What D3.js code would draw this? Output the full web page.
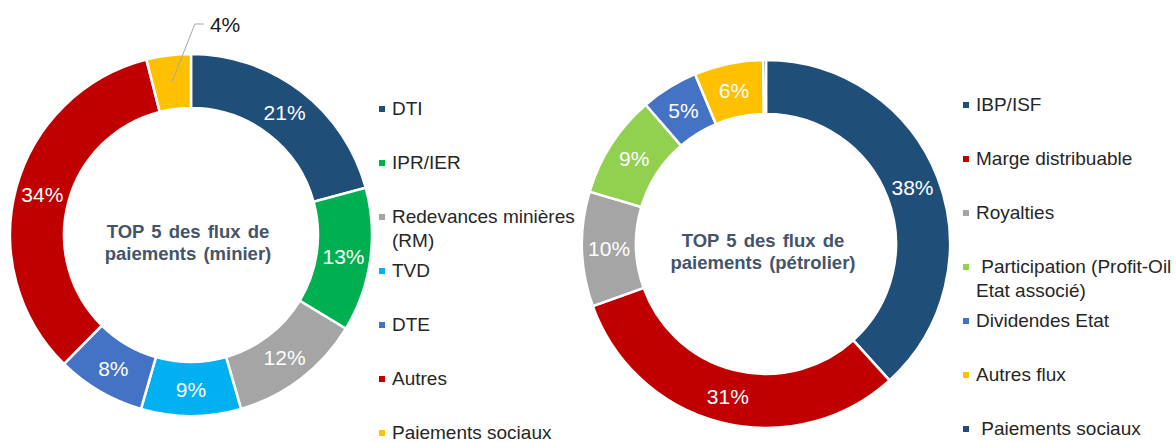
<!DOCTYPE html>
<html>
<head>
<meta charset="utf-8">
<script src="https://cdn.jsdelivr.net/npm/d3@7"></script>
<style>
  body { margin: 0; background: #fff; }
  svg { display: block; font-family: "Liberation Sans", Arial, sans-serif; }
</style>
</head>
<body>
<svg id="chart" width="1176" height="442"></svg>
<script>
// mining donut
const minierLabels = ["DTI", "IPR/IER", "Redevances minières|(RM)", "TVD", "DTE", "Autres", "Paiements sociaux"];
const minierValues = [21, 13, 12, 9, 8, 34, 4];
const minierColors = ["#1F4E79", "#00B050", "#A5A5A5", "#00B0F0", "#4472C4", "#C00000", "#FFC000"];

// oil donut
const petrolLabels = ["IBP/ISF", "Marge distribuable", "Royalties", " Participation (Profit-Oil|Etat associé)", "Dividendes Etat", "Autres flux", " Paiements sociaux"];
const petrolValues = [38, 31, 10, 9, 5, 6, 0.25];
const petrolColors = ["#1F4E79", "#C00000", "#A5A5A5", "#92D050", "#4472C4", "#FFC000", "#1F4E79"];

const svg = d3.select("#chart");

function donut(opts) {
  const { cx, cy, inner, outer, labels, values, colors, title, legendX, legendY, outsideIdx } = opts;
  const data = values.map((v, i) => ({ label: labels[i], value: v, color: colors[i] }));

  const pie = d3.pie().sort(null).value(d => d.value);
  const arc = d3.arc().innerRadius(inner).outerRadius(outer);
  const arcs = pie(data);

  const g = svg.append("g").attr("transform", `translate(${cx},${cy})`);

  g.selectAll("path")
    .data(arcs)
    .join("path")
    .attr("d", arc)
    .attr("fill", d => d.data.color)
    .attr("stroke", "#fff")
    .attr("stroke-width", 2.5);

  // percentage labels inside the ring
  g.selectAll("text.pct")
    .data(arcs.filter((d, i) => i !== outsideIdx && d.data.value >= 1))
    .join("text")
    .attr("class", "pct")
    .attr("transform", d => `translate(${arc.centroid(d)})`)
    .attr("text-anchor", "middle")
    .attr("dy", "0.36em")
    .attr("fill", "#fff")
    .attr("font-size", 21)
    .text(d => d.data.value + "%");

  // small slice labelled outside with a leader line
  if (outsideIdx != null) {
    const d = arcs[outsideIdx];
    const [sx, sy] = arc.centroid(d);
    const ex = sx + 23, ey = -outer - 30;
    g.append("polyline")
      .attr("points", [[sx, sy], [ex, ey], [ex + 9, ey]].map(p => p.join(",")).join(" "))
      .attr("fill", "none")
      .attr("stroke", "#A6A6A6")
      .attr("stroke-width", 1);
    g.append("text")
      .attr("x", ex + 15)
      .attr("y", ey)
      .attr("dy", "0.36em")
      .attr("font-size", 21)
      .attr("fill", "#1a1a1a")
      .text(d.data.value + "%");
  }

  // centre title
  const t = g.append("text")
    .attr("text-anchor", "middle")
    .attr("font-size", 18.5)
    .attr("font-weight", "bold")
    .attr("fill", "#44546A")
    .attr("word-spacing", 2);
  title.forEach((line, i) => {
    t.append("tspan").attr("x", -3).attr("y", -4 + i * 22).attr("dy", "0.36em").text(line);
  });

  // legend
  const lg = svg.append("g").attr("transform", `translate(${legendX},${legendY})`);
  const item = lg.selectAll("g")
    .data(data)
    .join("g")
    .attr("transform", (d, i) => `translate(0,${i * 54})`);
  item.append("rect")
    .attr("x", 0).attr("y", -9)
    .attr("width", 6).attr("height", 6)
    .attr("fill", d => d.color);
  const lt = item.append("text")
    .attr("font-size", 19)
    .attr("fill", "#262626")
    .attr("xml:space", "preserve")
    .style("white-space", "pre");
  lt.selectAll("tspan")
    .data(d => d.label.split("|"))
    .join("tspan")
    .attr("x", 13)
    .attr("y", (s, i) => i * 24)
    .text(s => s);
}

donut({
  cx: 191, cy: 235, inner: 127, outer: 181,
  labels: minierLabels, values: minierValues, colors: minierColors,
  title: ["TOP 5 des flux de", "paiements  (minier)"],
  legendX: 379, legendY: 115, outsideIdx: 6
});

donut({
  cx: 766, cy: 244, inner: 130, outer: 184,
  labels: petrolLabels, values: petrolValues, colors: petrolColors,
  title: ["TOP 5 des flux de", "paiements  (pétrolier)"],
  legendX: 963, legendY: 111, outsideIdx: null
});
</script>
</body>
</html>
